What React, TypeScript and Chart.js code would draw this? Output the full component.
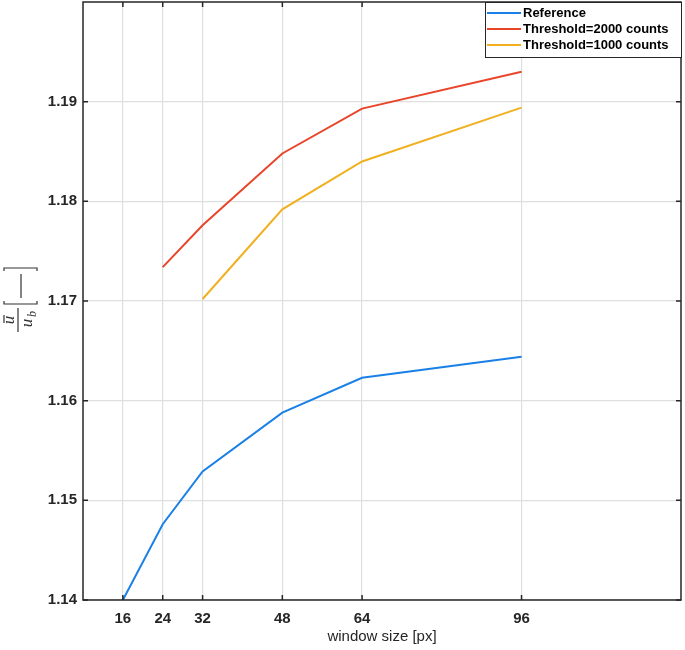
import React, { useEffect, useRef } from "react";
import { Chart, registerables } from "chart.js";

Chart.register(...registerables);

const xTicks = [16, 24, 32, 48, 64, 96];
const yTicks = [1.14, 1.15, 1.16, 1.17, 1.18, 1.19];
const refX = [16, 24, 32, 48, 64, 96];
const refY = [1.14, 1.1476, 1.1529, 1.1588, 1.1623, 1.1644];
const t2000X = [24, 32, 48, 64, 96];
const t2000Y = [1.1734, 1.1776, 1.1848, 1.1893, 1.193];
const t1000X = [32, 48, 64, 96];
const t1000Y = [1.1702, 1.1792, 1.184, 1.1894];
const labels = ["Reference", "Threshold=2000 counts", "Threshold=1000 counts"];
const colors = ["#1a80e6", "#e8452a", "#f0b020"];

const zip = (xs: number[], ys: number[]) => xs.map((x, i) => ({ x, y: ys[i] }));

const framePlugin = {
  id: "frame",
  afterDraw(chart: any) {
    const { ctx, chartArea: a, scales } = chart;
    ctx.save();
    ctx.strokeStyle = "#262626";
    ctx.lineWidth = 1.5;
    ctx.strokeRect(a.left, a.top, a.right - a.left, a.bottom - a.top);
    const tl = 5;
    ctx.beginPath();
    xTicks.forEach((v) => {
      const px = scales.x.getPixelForValue(v);
      ctx.moveTo(px, a.bottom);
      ctx.lineTo(px, a.bottom - tl);
      ctx.moveTo(px, a.top);
      ctx.lineTo(px, a.top + tl);
    });
    yTicks.forEach((v) => {
      const py = scales.y.getPixelForValue(v);
      ctx.moveTo(a.left, py);
      ctx.lineTo(a.left + tl, py);
      ctx.moveTo(a.right, py);
      ctx.lineTo(a.right - tl, py);
    });
    ctx.stroke();

    // legend
    const lx = 485, ly = 2, lw = 196, lh = 55;
    ctx.fillStyle = "#ffffff";
    ctx.fillRect(lx, ly, lw, lh);
    ctx.strokeStyle = "#262626";
    ctx.lineWidth = 1;
    ctx.strokeRect(lx + 0.5, ly + 0.5, lw, lh);
    ctx.font = "bold 13px 'Liberation Sans', Arial, sans-serif";
    ctx.textBaseline = "middle";
    ctx.textAlign = "left";
    labels.forEach((t, i) => {
      const yy = 13 + i * 16;
      ctx.strokeStyle = colors[i];
      ctx.lineWidth = 2;
      ctx.beginPath();
      ctx.moveTo(487, yy);
      ctx.lineTo(521, yy);
      ctx.stroke();
      ctx.fillStyle = "#000000";
      ctx.fillText(t, 523, yy);
    });

    // x title
    ctx.fillStyle = "#262626";
    ctx.font = "15px 'Liberation Sans', Arial, sans-serif";
    ctx.textAlign = "center";
    ctx.textBaseline = "middle";
    ctx.fillText("window size [px]", (a.left + a.right) / 2, 637);

    // y title: ū/u_b [—] rotated
    ctx.translate(20, 300);
    ctx.rotate(-Math.PI / 2);
    ctx.fillStyle = "#333333";
    ctx.strokeStyle = "#333333";
    ctx.lineWidth = 1.2;
    ctx.beginPath();
    ctx.moveTo(-32, -2);
    ctx.lineTo(-8, -2);
    ctx.stroke();
    ctx.font = "italic 17px 'Liberation Serif', 'DejaVu Serif', serif";
    ctx.textAlign = "center";
    ctx.textBaseline = "alphabetic";
    ctx.fillText("u", -20, -6);
    // macron
    ctx.beginPath();
    ctx.moveTo(-23, -16);
    ctx.lineTo(-15, -16);
    ctx.stroke();
    ctx.fillText("u", -23, 12);
    ctx.font = "italic 12px 'Liberation Serif', 'DejaVu Serif', serif";
    ctx.fillText("b", -14, 16);
    // brackets and dash
    ctx.beginPath();
    ctx.moveTo(-1, -16);
    ctx.lineTo(-4, -16);
    ctx.lineTo(-4, 17);
    ctx.lineTo(-1, 17);
    ctx.moveTo(29, -16);
    ctx.lineTo(32, -16);
    ctx.lineTo(32, 17);
    ctx.lineTo(29, 17);
    ctx.moveTo(2, 1);
    ctx.lineTo(26, 1);
    ctx.stroke();
    ctx.restore();
  },
};

export default function App() {
  const ref = useRef<HTMLCanvasElement>(null);
  useEffect(() => {
    const chart = new Chart(ref.current!, {
      type: "line",
      data: {
        datasets: [
          { label: labels[0], data: zip(refX, refY), borderColor: colors[0], backgroundColor: colors[0], borderWidth: 2, pointRadius: 0, tension: 0 },
          { label: labels[1], data: zip(t2000X, t2000Y), borderColor: colors[1], backgroundColor: colors[1], borderWidth: 2, pointRadius: 0, tension: 0 },
          { label: labels[2], data: zip(t1000X, t1000Y), borderColor: colors[2], backgroundColor: colors[2], borderWidth: 2, pointRadius: 0, tension: 0 },
        ],
      },
      options: {
        animation: false,
        responsive: false,
        maintainAspectRatio: false,
        layout: { padding: { left: 0, right: 4, top: 2, bottom: 0 } },
        plugins: { legend: { display: false }, tooltip: { enabled: false } },
        scales: {
          x: {
            type: "linear",
            min: 8,
            max: 128,
            afterBuildTicks: (s: any) => {
              s.ticks = xTicks.map((v) => ({ value: v }));
            },
            afterFit: (s: any) => {
              s.height = 50;
              s.paddingLeft = 0;
              s.paddingRight = 0;
            },
            grid: { color: "#dde0df", lineWidth: 1.2, drawTicks: false },
            border: { display: false },
            ticks: {
              color: "#262626",
              font: { family: "'Liberation Sans', Arial, sans-serif", size: 15, weight: "bold" },
              padding: 10,
              maxRotation: 0,
              autoSkip: false,
              callback: (v: any) => String(v),
            },
          },
          y: {
            type: "linear",
            min: 1.14,
            max: 1.2,
            afterBuildTicks: (s: any) => {
              s.ticks = yTicks.map((v) => ({ value: v }));
            },
            afterFit: (s: any) => {
              s.width = 83;
              s.paddingTop = 0;
              s.paddingBottom = 0;
            },
            grid: { color: "#dde0df", lineWidth: 1.2, drawTicks: false },
            border: { display: false },
            ticks: {
              color: "#262626",
              font: { family: "'Liberation Sans', Arial, sans-serif", size: 15, weight: "bold" },
              padding: 6,
              autoSkip: false,
              callback: (v: any) => Number(v).toFixed(2),
            },
          },
        },
      },
      plugins: [framePlugin],
    } as any);
    return () => chart.destroy();
  }, []);
  return (
    <div style={{ position: "fixed", left: 0, top: 0, width: 685, height: 650, background: "#fff" }}>
      <canvas ref={ref} width={685} height={650} style={{ width: 685, height: 650 }} />
    </div>
  );
}
